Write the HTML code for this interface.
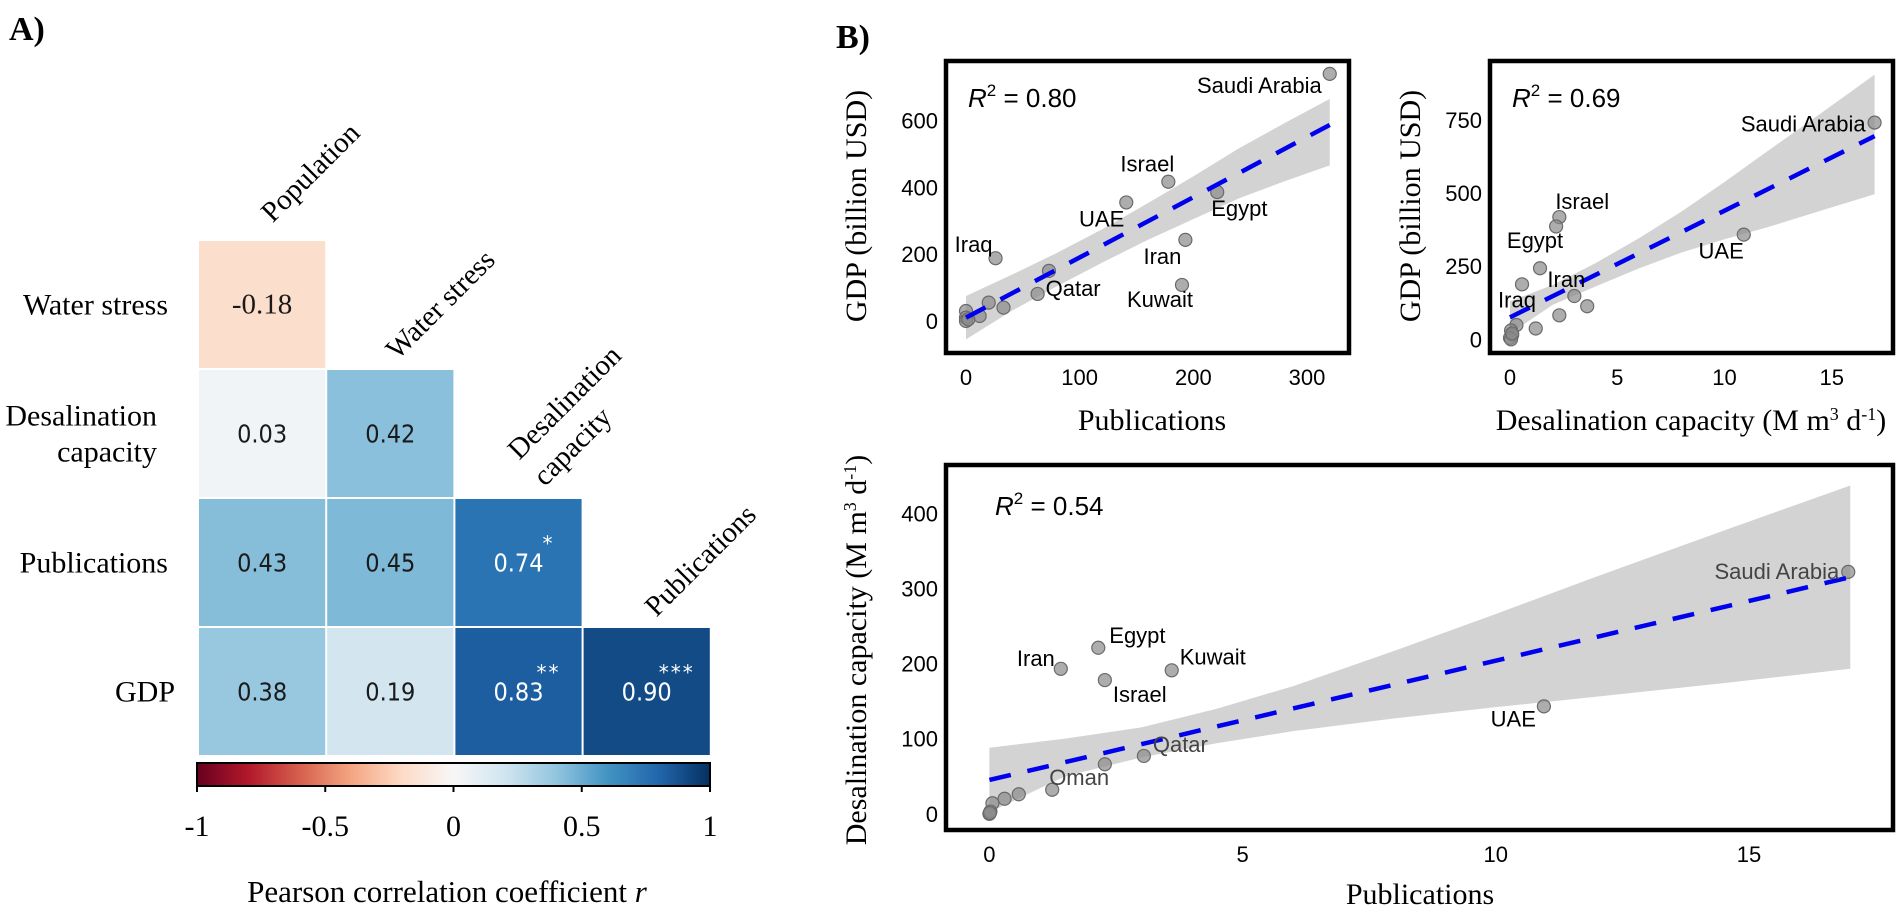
<!DOCTYPE html>
<html><head><meta charset="utf-8">
<style>
html,body{margin:0;padding:0;background:#fff;}
svg{display:block;}
.tnr{font-family:"Liberation Serif",serif;}
.ars{font-family:"Liberation Sans",sans-serif;}
</style></head>
<body>
<svg id="fig" width="1901" height="910" viewBox="0 0 1901 910" xmlns="http://www.w3.org/2000/svg">
<text x="9" y="40" class="tnr" font-size="34" font-weight="bold">A)</text>
<text x="836" y="48" class="tnr" font-size="34" font-weight="bold">B)</text>
<g id="heat"></g>
<g id="p1"></g>
<g id="p2"></g>
<g id="p3"></g>
</svg>
<script>
// ---------- Heatmap data ----------
const heatRows = ["Water stress", "Desalination capacity", "Publications", "GDP"];
const heatCols = ["Population", "Water stress", "Desalination capacity", "Publications"];
const heatValues = [
  [-0.18],
  [0.03, 0.42],
  [0.43, 0.45, 0.74],
  [0.38, 0.19, 0.83, 0.90]
];
const heatStars = [
  [""],
  ["", ""],
  ["", "", "*"],
  ["", "", "**", "***"]
];
const cbTicks = [-1, -0.5, 0, 0.5, 1];
const cbTickLabels = ["-1", "-0.5", "0", "0.5", "1"];

// ---------- Scatter 1: GDP vs Publications ----------
const p1X = [320, 178, 141, 221, 26, 193, 190, 63, 73, 33, 20, 12, 0, 0, 0, 2];
const p1Y = [740, 417, 355, 386, 188, 243, 108, 81, 150, 40, 55, 15, 30, 10, 0, 5];
const p1Names = ["Saudi Arabia","Israel","UAE","Egypt","Iraq","Iran","Kuwait","Qatar"];
const p1XTicks = [0, 100, 200, 300];
const p1YTicks = [0, 200, 400, 600];
const p1FitX = [0, 320];
const p1FitY = [10, 587];
const p1BandX = [0, 40, 80, 120, 160, 200, 240, 280, 320];
const p1BandLo = [-55, 30, 104, 175, 243, 305, 367, 418, 466];
const p1BandHi = [75, 138, 204, 275, 353, 433, 517, 592, 665];

// ---------- Scatter 2: GDP vs Desalination ----------
const p2X = [17, 2.3, 2.15, 10.9, 1.4, 0.56, 3.0, 3.6, 2.3, 1.2, 0.3, 0.05, 0.1, 0, 0.05, 0.1];
const p2Y = [741, 418, 386, 358, 243, 188, 148, 113, 82, 37, 49, 30, 15, 5, 0, 20];
const p2Names = ["Saudi Arabia","Israel","","UAE","Egypt","Iraq","Iran"];
const p2XTicks = [0, 5, 10, 15];
const p2YTicks = [0, 250, 500, 750];
const p2FitX = [0, 17];
const p2FitY = [75, 695];
const p2BandX = [0, 2, 4, 6, 8, 10, 12, 14.5, 17];
const p2BandLo = [20, 118, 181, 242, 297, 342, 383, 440, 496];
const p2BandHi = [130, 186, 261, 345, 437, 538, 643, 773, 905];

// ---------- Scatter 3: Desalination vs Publications ----------
const p3X = [16.96, 10.95, 1.41, 2.15, 2.28, 3.6, 3.05, 2.28, 1.24, 0.58, 0.3, 0.06, 0, 0.02, 0.01];
const p3Y = [322, 143, 193, 221, 178, 191, 77, 66, 32, 26, 20, 14, 0, 3, 1];
const p3Names = ["Saudi Arabia","UAE","Iran","Egypt","Israel","Kuwait","Qatar","","Oman"];
const p3XTicks = [0, 5, 10, 15];
const p3YTicks = [0, 100, 200, 300, 400];
const p3FitX = [0, 17];
const p3FitY = [45, 315];
const p3BandX = [0, 1.5, 3, 4.5, 6, 8, 10, 12, 14.5, 17];
const p3BandLo = [2, 50, 75, 94, 110, 127, 142, 156, 174, 193];
const p3BandHi = [88, 100, 115, 140, 170, 217, 266, 316, 377, 437];

const NS = "http://www.w3.org/2000/svg";
function mk(parent, tag, attrs, text) {
  const e = document.createElementNS(NS, tag);
  for (const k in attrs) e.setAttribute(k, attrs[k]);
  if (text !== undefined) e.textContent = text;
  parent.appendChild(e);
  return e;
}

const stops = [[-1,"#67001f"],[-0.8,"#b2182b"],[-0.6,"#d6604d"],[-0.4,"#f4a582"],[-0.2,"#fddbc7"],[0,"#f7f7f7"],[0.2,"#d1e5f0"],[0.4,"#92c5de"],[0.6,"#4393c3"],[0.8,"#2166ac"],[1,"#053061"]];
function hex(h){return [1,3,5].map(i=>parseInt(h.substr(i,2),16));}
function rdbu(v){
  for(let i=0;i<stops.length-1;i++){
    if(v<=stops[i+1][0]){
      const t=(v-stops[i][0])/(stops[i+1][0]-stops[i][0]);
      const a=hex(stops[i][1]),b=hex(stops[i+1][1]);
      return "rgb("+a.map((c,j)=>Math.round(c+(b[j]-c)*t)).join(",")+")";
    }
  }
  return stops[stops.length-1][1];
}

// ---------- Draw heatmap ----------
(function(){
  const g = document.getElementById("heat");
  const x0 = 198, y0 = 240, cw = 128.2, ch = 129;
  heatValues.forEach((row, r) => {
    row.forEach((v, c) => {
      const x = x0 + c*cw, y = y0 + r*ch;
      const rect = mk(g, "rect", {x:x+1, y:y+1, width:cw-2, height:ch-2, fill:rdbu(v)});
      
      
      const col = Math.abs(v) > 0.6 ? "#fff" : "#1a1a1a";
      const neg = v < 0;
      const t = mk(g, "text", {x:x+cw/2, y:y+ch/2+9, "text-anchor":"middle", "font-family": neg ? "Liberation Serif, serif" : "DejaVu Sans Condensed, DejaVu Sans, sans-serif", "font-size": neg ? "29" : "25", fill:col}, v.toFixed(2));
      
      
      const s = heatStars[r][c];
      if (s) {
        const st = mk(g, "text", {x:x+cw/2+30, y:y+ch/2-12, "text-anchor":"middle", "font-family":"DejaVu Sans, sans-serif", "font-size":"20", fill:"#fff", "letter-spacing":"2"}, s);
        
        
      }
    });
  });
  // row labels
  const rowLines = [["Water stress"], ["Desalination","capacity"], ["Publications"], ["GDP"]];
  const rowRight = [[168], [157, 157], [168], [175]];
  rowLines.forEach((lines, r) => {
    const cy = y0 + ch*(r+0.5);
    lines.forEach((ln, i) => {
      const yy = cy + 10 + (lines.length===2 ? (i===0 ? -18 : 18) : 0);
      const t = mk(g, "text", {x:rowRight[r][i], y:yy, "text-anchor":"end", class:"tnr", "font-size":"30"}, ln);
      
      
    });
  });
  // column labels
  const colLines = [["Population"], ["Water stress"], ["Desalination","capacity"], ["Publications"]];
  const colCenters = [[[310,172]], [[440,304]], [[564,402],[572,446]], [[700,560]]];
  colLines.forEach((lines, c) => {
    lines.forEach((ln, i) => {
      const p = colCenters[c][i];
      const t = mk(g, "text", {x:0, y:10, "text-anchor":"middle", class:"tnr", "font-size":"29", transform:"translate("+p[0]+","+p[1]+") rotate(-45)"}, ln);
      
      
    });
  });
  // colorbar
  const cbx0 = 197, cbx1 = 710, cby = 763, cbh = 23;
  const defs = mk(g, "defs", {});
  const lg = mk(defs, "linearGradient", {id:"rdbu", x1:"0", x2:"1", y1:"0", y2:"0"});
  stops.forEach(s => mk(lg, "stop", {offset:((s[0]+1)/2*100)+"%", "stop-color":s[1]}));
  const cb = mk(g, "rect", {x:cbx0, y:cby, width:cbx1-cbx0, height:cbh, fill:"url(#rdbu)", stroke:"#000", "stroke-width":"2"});
  
  
  const cbs = v => cbx0 + (v+1)/2*(cbx1-cbx0);
  cbTicks.forEach((v, i) => {
    mk(g, "line", {x1:cbs(v), x2:cbs(v), y1:cby+cbh, y2:cby+cbh+6, stroke:"#000", "stroke-width":"2"});
    const t = mk(g, "text", {x:cbs(v), y:836, "text-anchor":"middle", class:"tnr", "font-size":"30"}, cbTickLabels[i]);
    
    
  });
  const tt = mk(g, "text", {x:447, y:902, "text-anchor":"middle", class:"tnr", "font-size":"31"}, "Pearson correlation coefficient ");
  mk(tt, "tspan", {"font-style":"italic"}, "r");
  
  
})();

// ---------- Scatter drawing ----------
function scatter(g, c) {
  const sx = v => c.px0 + (v - c.xd0) / (c.xd1 - c.xd0) * (c.px1 - c.px0);
  const sy = v => c.py0 + (v - c.yd0) / (c.yd1 - c.yd0) * (c.py1 - c.py0);
  let d = "";
  c.bandX.forEach((x, i) => { d += (i ? "L" : "M") + sx(x) + "," + sy(c.bandHi[i]); });
  for (let i = c.bandX.length - 1; i >= 0; i--) d += "L" + sx(c.bandX[i]) + "," + sy(c.bandLo[i]);
  const band = mk(g, "path", {d: d + "Z", fill: "#d3d3d3"});
  
  
  c.xs.forEach((x, i) => {
    const p = mk(g, "circle", {cx: sx(x), cy: sy(c.ys[i]), r: 6.5, fill: "#8a8a8a", "fill-opacity": "0.7", stroke: "#6a6a6a", "stroke-width": "1.2"});
    
    
  });
  const fl = mk(g, "line", {x1: sx(c.fitX[0]), y1: sy(c.fitY[0]), x2: sx(c.fitX[1]), y2: sy(c.fitY[1]), stroke: "#0000ee", "stroke-width": "4.5", "stroke-dasharray": "22 17"});
  
  
  c.labels.forEach(l => {
    const name = c.names[l[0]];
    if (!name) return;
    const t = mk(g, "text", {x: sx(c.xs[l[0]]) + l[1], y: sy(c.ys[l[0]]) + l[2], "text-anchor": l[3], class: "ars", "font-size": "22", fill: l[4] || "#000"}, name);
    
    
  });
  const box = mk(g, "rect", {x: c.bx0, y: c.by0, width: c.bx1 - c.bx0, height: c.by1 - c.by0, fill: "none", stroke: "#000", "stroke-width": "4.5"});
  
  
  c.xTicks.forEach(v => {
    const t = mk(g, "text", {x: sx(v), y: c.by1 + 32, "text-anchor": "middle", class: "ars", "font-size": "22"}, String(v));
    
    
  });
  c.yTicks.forEach(v => {
    const t = mk(g, "text", {x: c.bx0 - 8, y: sy(v) + 8, "text-anchor": "end", class: "ars", "font-size": "22"}, String(v));
    
    
  });
  const r = mk(g, "text", {x: c.r2x, y: c.r2y, class: "ars", "font-size": "26"});
  mk(r, "tspan", {"font-style": "italic"}, "R");
  mk(r, "tspan", {dy: "-11", "font-size": "17"}, "2");
  mk(r, "tspan", {dy: "11"}, " = " + c.r2);
  
  
  const xt = mk(g, "text", {x: c.xtx, y: c.xty, "text-anchor": "middle", class: "tnr", "font-size": "30"});
  c.xtitle(xt);
  
  
  const yt = mk(g, "text", {x: 0, y: 0, "text-anchor": "middle", class: "tnr", "font-size": "30", transform: "translate(" + c.ytx + "," + c.yty + ") rotate(-90)"});
  c.ytitle(yt);
  
  
}
function plainTitle(s){ return t => { t.textContent = s; }; }
function desalTitle(t){
  mk(t, "tspan", {}, "Desalination capacity (M m");
  mk(t, "tspan", {dy: "-10", "font-size": "18"}, "3");
  mk(t, "tspan", {dy: "10"}, " d");
  mk(t, "tspan", {dy: "-10", "font-size": "18"}, "-1");
  mk(t, "tspan", {dy: "10"}, ")");
}

scatter(document.getElementById("p1"), {
  xs: p1X, ys: p1Y, names: p1Names, xTicks: p1XTicks, yTicks: p1YTicks,
  fitX: p1FitX, fitY: p1FitY, bandX: p1BandX, bandLo: p1BandLo, bandHi: p1BandHi,
  xd0: 0, xd1: 300, px0: 966, px1: 1307, yd0: 0, yd1: 600, py0: 321, py1: 120.6,
  bx0: 946, bx1: 1349, by0: 61, by1: 353,
  labels: [[0,-8,19,"end"],[1,-21,-10,"middle"],[2,-2,24,"end"],[3,-6,24,"start"],[4,-3,-6,"end"],[5,-4,24,"end"],[6,-22,22,"middle"],[7,8,2,"start"]],
  r2: "0.80", r2x: 968, r2y: 107,
  xtx: 1152, xty: 430, xtitle: plainTitle("Publications"),
  ytx: 866, yty: 206, ytitle: plainTitle("GDP (billion USD)")
});
scatter(document.getElementById("p2"), {
  xs: p2X, ys: p2Y, names: p2Names, xTicks: p2XTicks, yTicks: p2YTicks,
  fitX: p2FitX, fitY: p2FitY, bandX: p2BandX, bandLo: p2BandLo, bandHi: p2BandHi,
  xd0: 0, xd1: 15, px0: 1510, px1: 1831.7, yd0: 0, yd1: 750, py0: 339.3, py1: 120,
  bx0: 1490, bx1: 1893, by0: 61, by1: 353,
  labels: [[0,-9,9,"end"],[1,-4,-8,"start"],[3,0,24,"end"],[4,-5,-20,"middle"],[5,-5,23,"middle"],[6,-8,-9,"middle"]],
  r2: "0.69", r2x: 1512, r2y: 107,
  xtx: 1691, xty: 430, xtitle: desalTitle,
  ytx: 1420, yty: 206, ytitle: plainTitle("GDP (billion USD)")
});
scatter(document.getElementById("p3"), {
  xs: p3X, ys: p3Y, names: p3Names, xTicks: p3XTicks, yTicks: p3YTicks,
  fitX: p3FitX, fitY: p3FitY, bandX: p3BandX, bandLo: p3BandLo, bandHi: p3BandHi,
  xd0: 0, xd1: 15, px0: 989.4, px1: 1749, yd0: 0, yd1: 400, py0: 813.8, py1: 513.3,
  bx0: 946, bx1: 1893, by0: 465, by1: 830,
  labels: [[0,-9,7,"end","#444"],[1,-8,20,"end"],[2,-6,-3,"end"],[3,11,-5,"start"],[4,8,22,"start"],[5,8,-6,"start"],[6,9,-4,"start","#444"],[8,-3,-5,"start","#444"]],
  r2: "0.54", r2x: 995, r2y: 515,
  xtx: 1420, xty: 904, xtitle: plainTitle("Publications"),
  ytx: 866, yty: 650, ytitle: desalTitle
});
</script>
</body></html>
